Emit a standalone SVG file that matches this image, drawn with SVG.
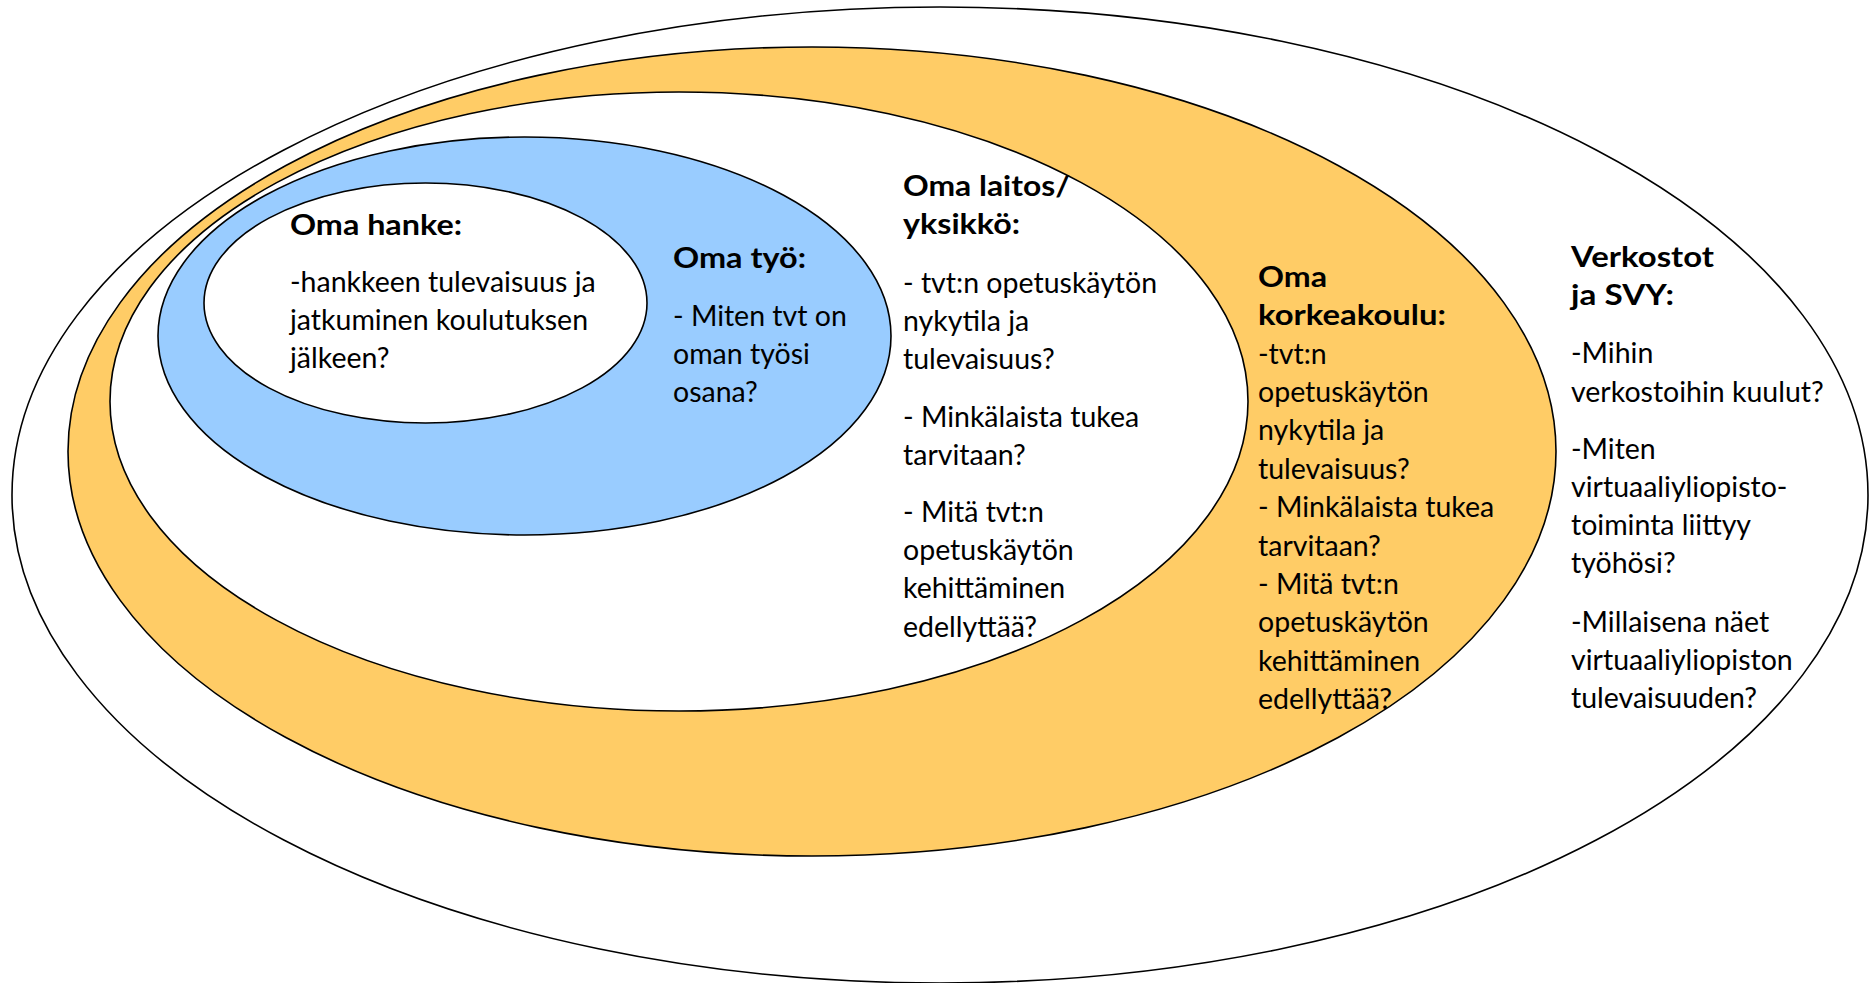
<svg xmlns="http://www.w3.org/2000/svg" width="1869" height="983" viewBox="0 0 1869 983">
<style>
.ring{stroke:#000;stroke-width:1.6}
.t{font-family:Lato,"Liberation Sans",sans-serif;font-size:28.5px;fill:#000}
.b{font-weight:bold;font-size:28px}
</style>
<rect width="1869" height="983" fill="#fff"/>
<g id="verkostot">
<ellipse class="ring" cx="940" cy="495" rx="928" ry="488" fill="#fff"/>
</g>
<g id="korkeakoulu">
<ellipse class="ring" cx="812" cy="451.5" rx="744" ry="404.5" fill="#FFCC66"/>
</g>
<g id="laitos">
<ellipse class="ring" cx="679" cy="401.5" rx="569" ry="309.5" fill="#fff"/>
</g>
<g id="tyo">
<ellipse class="ring" cx="524.5" cy="336" rx="366.5" ry="199" fill="#99CCFF"/>
</g>
<g id="hanke">
<ellipse class="ring" cx="425.5" cy="303" rx="221.5" ry="120" fill="#fff"/>
</g>
<g id="connectors"/>
<g id="hanke-text">
<text x="290" y="235" class="t b" textLength="172" lengthAdjust="spacingAndGlyphs">Oma hanke:</text>
<text x="290" y="292" class="t">-hankkeen tulevaisuus ja</text>
<text x="290" y="330" class="t">jatkuminen koulutuksen</text>
<text x="290" y="368" class="t">jälkeen?</text>
</g>
<g id="tyo-text">
<text x="673" y="268" class="t b" textLength="133" lengthAdjust="spacingAndGlyphs">Oma työ:</text>
<text x="673" y="326" class="t">- Miten tvt on</text>
<text x="673" y="364" class="t">oman työsi</text>
<text x="673" y="402" class="t">osana?</text>
</g>
<g id="laitos-text">
<text x="903" y="196" class="t b" textLength="167" lengthAdjust="spacingAndGlyphs">Oma laitos/</text>
<text x="903" y="234" class="t b" textLength="117" lengthAdjust="spacingAndGlyphs">yksikkö:</text>
<text x="903" y="293" class="t">- tvt:n opetuskäytön</text>
<text x="903" y="331" class="t">nykytila ja</text>
<text x="903" y="369" class="t">tulevaisuus?</text>
<text x="903" y="427" class="t">- Minkälaista tukea</text>
<text x="903" y="465" class="t">tarvitaan?</text>
<text x="903" y="522" class="t">- Mitä tvt:n</text>
<text x="903" y="560" class="t">opetuskäytön</text>
<text x="903" y="598" class="t">kehittäminen</text>
<text x="903" y="637" class="t">edellyttää?</text>
</g>
<g id="korkeakoulu-text">
<text x="1258" y="287" class="t b" textLength="69" lengthAdjust="spacingAndGlyphs">Oma</text>
<text x="1258" y="325" class="t b" textLength="188" lengthAdjust="spacingAndGlyphs">korkeakoulu:</text>
<text x="1258" y="364" class="t">-tvt:n</text>
<text x="1258" y="402" class="t">opetuskäytön</text>
<text x="1258" y="440" class="t">nykytila ja</text>
<text x="1258" y="479" class="t">tulevaisuus?</text>
<text x="1258" y="517" class="t">- Minkälaista tukea</text>
<text x="1258" y="556" class="t">tarvitaan?</text>
<text x="1258" y="594" class="t">- Mitä tvt:n</text>
<text x="1258" y="632" class="t">opetuskäytön</text>
<text x="1258" y="671" class="t">kehittäminen</text>
<text x="1258" y="709" class="t">edellyttää?</text>
</g>
<g id="verkostot-text">
<text x="1571" y="267" class="t b" textLength="143" lengthAdjust="spacingAndGlyphs">Verkostot</text>
<text x="1571" y="305" class="t b" textLength="103" lengthAdjust="spacingAndGlyphs">ja SVY:</text>
<text x="1571" y="363" class="t">-Mihin</text>
<text x="1571" y="402" class="t">verkostoihin kuulut?</text>
<text x="1571" y="459" class="t">-Miten</text>
<text x="1571" y="497" class="t">virtuaaliyliopisto-</text>
<text x="1571" y="535" class="t">toiminta liittyy</text>
<text x="1571" y="573" class="t">työhösi?</text>
<text x="1571" y="632" class="t">-Millaisena näet</text>
<text x="1571" y="670" class="t">virtuaaliyliopiston</text>
<text x="1571" y="708" class="t">tulevaisuuden?</text>
</g>
</svg>
